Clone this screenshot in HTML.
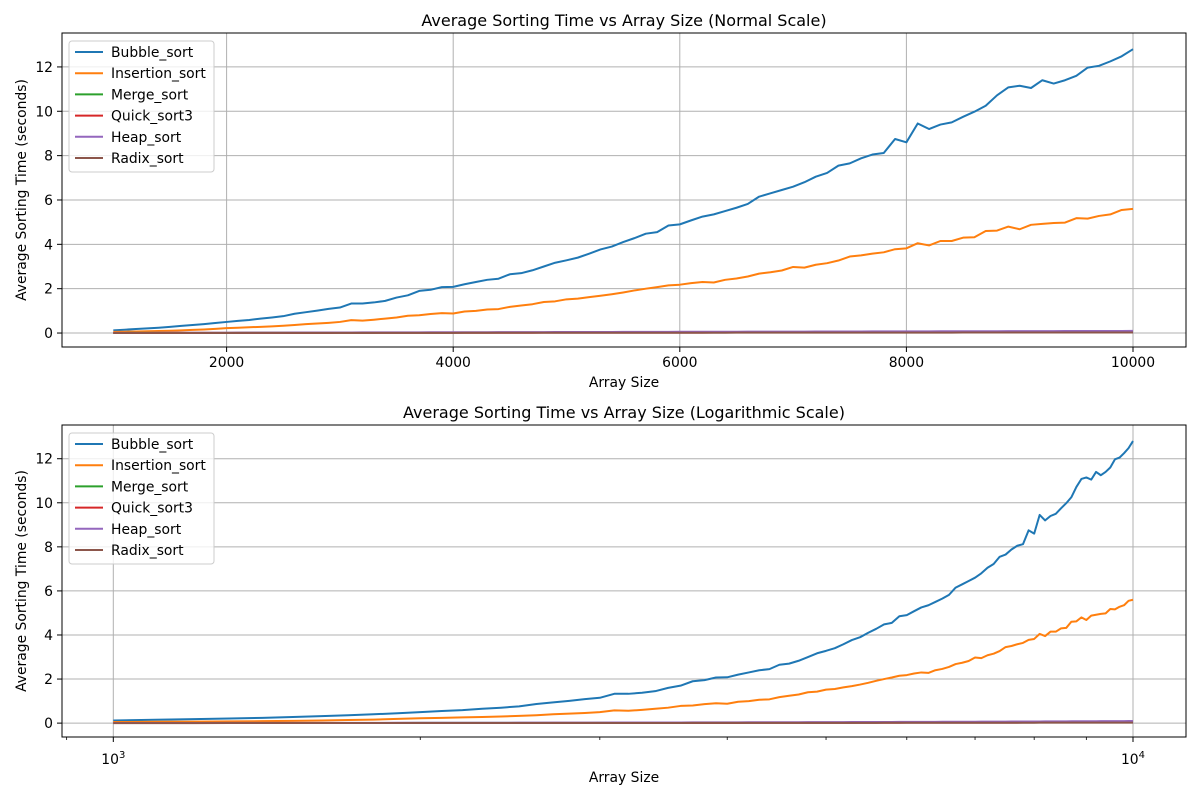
<!DOCTYPE html>
<html><head><meta charset="utf-8"><style>
html,body{margin:0;padding:0;background:#fff;}
svg{display:block;font-family:"DejaVu Sans","Liberation Sans",sans-serif;}
</style></head><body>
<svg id="chart" width="1200" height="800" viewBox="0 0 1200 800" xmlns="http://www.w3.org/2000/svg"></svg>
<script>
const sizes = [];
for (let n = 1000; n <= 10000; n += 100) sizes.push(n);
const seriesNames = ["Bubble_sort","Insertion_sort","Merge_sort","Quick_sort3","Heap_sort","Radix_sort"];
const seriesColors = ["#1f77b4","#ff7f0e","#2ca02c","#d62728","#9467bd","#8c564b"];
const bubbleSort = [0.12,0.15,0.18,0.21,0.24,0.28,0.32,0.36,0.40,0.45,
0.50,0.55,0.59,0.65,0.70,0.76,0.87,0.94,1.01,1.09,
1.15,1.33,1.33,1.38,1.45,1.60,1.70,1.90,1.95,2.07,
2.08,2.20,2.30,2.40,2.45,2.65,2.70,2.83,3.00,3.17,
3.28,3.40,3.58,3.77,3.90,4.10,4.28,4.48,4.55,4.85,
4.90,5.08,5.25,5.35,5.50,5.65,5.82,6.15,6.30,6.45,
6.60,6.80,7.05,7.22,7.55,7.65,7.88,8.05,8.12,8.75,
8.60,9.45,9.20,9.40,9.50,9.75,9.98,10.25,10.72,11.08,
11.15,11.05,11.40,11.25,11.40,11.60,11.97,12.05,12.25,12.48,12.80];
const insertionSort = [0.05,0.06,0.07,0.08,0.09,0.10,0.12,0.14,0.16,0.19,
0.22,0.24,0.26,0.28,0.30,0.33,0.36,0.40,0.43,0.46,
0.50,0.58,0.56,0.60,0.65,0.70,0.78,0.80,0.86,0.90,
0.88,0.97,1.00,1.06,1.08,1.18,1.24,1.30,1.40,1.43,
1.52,1.55,1.62,1.68,1.75,1.83,1.92,2.00,2.07,2.15,
2.18,2.25,2.30,2.28,2.40,2.46,2.55,2.68,2.74,2.82,
2.98,2.95,3.08,3.15,3.27,3.45,3.50,3.58,3.64,3.78,
3.82,4.05,3.95,4.15,4.15,4.30,4.32,4.60,4.62,4.80,
4.68,4.88,4.92,4.96,4.98,5.18,5.16,5.28,5.35,5.55,5.60];
const mergeSort = [0.004,0.004,0.005,0.005,0.006,0.006,0.007,0.007,0.008,0.008,
0.009,0.009,0.010,0.010,0.011,0.011,0.012,0.012,0.013,0.013,
0.014,0.014,0.015,0.015,0.016,0.016,0.017,0.017,0.018,0.018,
0.019,0.019,0.020,0.020,0.021,0.021,0.022,0.022,0.023,0.023,
0.024,0.024,0.025,0.025,0.026,0.026,0.027,0.027,0.028,0.028,
0.029,0.029,0.030,0.030,0.031,0.031,0.032,0.032,0.033,0.033,
0.034,0.034,0.035,0.035,0.036,0.036,0.037,0.037,0.038,0.038,
0.039,0.039,0.040,0.040,0.041,0.041,0.042,0.042,0.043,0.043,
0.044,0.044,0.045,0.045,0.046,0.046,0.047,0.047,0.048,0.048,0.049];
const quickSort3 = [0.003,0.003,0.004,0.004,0.004,0.005,0.005,0.005,0.006,0.006,
0.006,0.007,0.007,0.007,0.008,0.008,0.008,0.009,0.009,0.009,
0.010,0.010,0.010,0.011,0.011,0.011,0.012,0.012,0.012,0.013,
0.013,0.013,0.014,0.014,0.014,0.015,0.015,0.015,0.016,0.016,
0.016,0.017,0.017,0.017,0.018,0.018,0.018,0.019,0.019,0.019,
0.020,0.020,0.020,0.021,0.021,0.021,0.022,0.022,0.022,0.023,
0.023,0.023,0.024,0.024,0.024,0.025,0.025,0.025,0.026,0.026,
0.026,0.027,0.027,0.027,0.028,0.028,0.028,0.029,0.029,0.029,
0.030,0.030,0.030,0.031,0.031,0.031,0.032,0.032,0.032,0.033,0.033];
const heapSort = [0.006,0.007,0.008,0.009,0.010,0.010,0.011,0.012,0.013,0.014,
0.015,0.016,0.017,0.018,0.019,0.020,0.021,0.022,0.023,0.024,
0.025,0.026,0.027,0.028,0.029,0.030,0.031,0.032,0.033,0.034,
0.035,0.036,0.037,0.038,0.039,0.040,0.041,0.042,0.043,0.044,
0.045,0.046,0.047,0.048,0.049,0.050,0.051,0.052,0.053,0.054,
0.055,0.056,0.057,0.058,0.059,0.060,0.061,0.062,0.063,0.064,
0.065,0.066,0.067,0.068,0.069,0.070,0.071,0.072,0.073,0.074,
0.075,0.076,0.077,0.078,0.079,0.080,0.081,0.082,0.083,0.084,
0.085,0.086,0.087,0.088,0.089,0.090,0.091,0.092,0.093,0.094,0.095];
const radixSort = [0.002,0.002,0.002,0.003,0.003,0.003,0.003,0.004,0.004,0.004,
0.004,0.005,0.005,0.005,0.005,0.006,0.006,0.006,0.006,0.007,
0.007,0.007,0.007,0.008,0.008,0.008,0.008,0.009,0.009,0.009,
0.009,0.010,0.010,0.010,0.010,0.011,0.011,0.011,0.011,0.012,
0.012,0.012,0.012,0.013,0.013,0.013,0.013,0.014,0.014,0.014,
0.014,0.015,0.015,0.015,0.015,0.016,0.016,0.016,0.016,0.017,
0.017,0.017,0.017,0.018,0.018,0.018,0.018,0.019,0.019,0.019,
0.019,0.020,0.020,0.020,0.020,0.021,0.021,0.021,0.021,0.022,
0.022,0.022,0.022,0.023,0.023,0.023,0.023,0.024,0.024,0.024,0.024];
const seriesValues = [bubbleSort, insertionSort, mergeSort, quickSort3, heapSort, radixSort];
const yTicks = [0,2,4,6,8,10,12];
const xTicksLinear = [2000,4000,6000,8000,10000];
const xMinorLog = [900,2000,3000,4000,5000,6000,7000,8000,9000];

const NS = "http://www.w3.org/2000/svg";
const svg = document.getElementById("chart");
function mk(tag, attrs, parent) {
  const e = document.createElementNS(NS, tag);
  for (const k in attrs) e.setAttribute(k, attrs[k]);
  (parent || svg).appendChild(e);
  return e;
}
const L = 62, R = 1186, YMIN = -0.63, YMAX = 13.53;

function drawPanel(top, bottom, isLog, title, prefix) {
  const g = mk("g", {});
  
  
  const yS = v => bottom - (v - YMIN) / (YMAX - YMIN) * (bottom - top);
  const xS = isLog
    ? v => 113.3 + (Math.log10(v) - 3) * 1019.7
    : v => 113.3 + (v - 1000) * 0.11330;
  // grid
  yTicks.forEach(t => {
    const y = yS(t);
    const gl = mk("line", {x1:L, x2:R, y1:y, y2:y, stroke:"#b0b0b0", "stroke-width":1}, g);
    
    
    mk("line", {x1:L-5, x2:L, y1:y, y2:y, stroke:"#000", "stroke-width":1}, g);
    const tx = mk("text", {x:L-9, y:y+5, "text-anchor":"end", "font-size":13.9, fill:"#000"}, g);
    tx.textContent = t;
    
    
  });
  const xt = isLog ? [1000,10000] : xTicksLinear;
  xt.forEach(t => {
    const x = xS(t);
    const gl = mk("line", {x1:x, x2:x, y1:top, y2:bottom, stroke:"#b0b0b0", "stroke-width":1}, g);
    
    
    mk("line", {x1:x, x2:x, y1:bottom, y2:bottom+5, stroke:"#000", "stroke-width":1}, g);
    const tx = mk("text", {x:x, y:bottom+20, "text-anchor":"middle", "font-size":13.9, fill:"#000"}, g);
    
    
    if (isLog) {
      tx.setAttribute("y", bottom+27);
      tx.textContent = "10";
      const sp = mk("tspan", {dy:-6, "font-size":10}, tx);
      sp.textContent = String(Math.round(Math.log10(t)));
    } else tx.textContent = t;
  });
  if (isLog) xMinorLog.forEach(t => {
    const x = xS(t);
    mk("line", {x1:x, x2:x, y1:bottom, y2:bottom+3, stroke:"#000", "stroke-width":0.8}, g);
  });
  // series
  seriesValues.forEach((vals, i) => {
    const d = vals.map((v, j) => (j ? "L" : "M") + xS(sizes[j]).toFixed(2) + "," + yS(v).toFixed(2)).join("");
    const p = mk("path", {d:d, fill:"none", stroke:seriesColors[i], "stroke-width":2, "stroke-linejoin":"round"}, g);
    
    
  });
  // frame
  const fr = mk("rect", {x:L, y:top, width:R-L, height:bottom-top, fill:"none", stroke:"#000", "stroke-width":1}, g);
  
  
  // title
  const tt = mk("text", {x:(L+R)/2, y:top-7, "text-anchor":"middle", "font-size":16, fill:"#000"}, g);
  tt.textContent = title;
  
  
  const xl = mk("text", {x:(L+R)/2, y:isLog ? bottom+45 : bottom+40, "text-anchor":"middle", "font-size":13.9, fill:"#000"}, g);
  xl.textContent = "Array Size";
  
  
  const cy = (top+bottom)/2;
  const yl = mk("text", {x:26, y:cy, "text-anchor":"middle", "font-size":13.9, fill:"#000", transform:"rotate(-90 26 " + cy + ")"}, g);
  yl.textContent = "Average Sorting Time (seconds)";
  
  
  // legend
  const lg = mk("g", {}, g);
  
  
  mk("rect", {x:69, y:top+8, width:145, height:131, rx:3, fill:"#fff", "fill-opacity":0.8, stroke:"#cccccc", "stroke-width":1}, lg);
  seriesNames.forEach((n, i) => {
    const y = top + 19 + i * 21.2;
    const e = mk("g", {}, lg);
    
    
    mk("line", {x1:75, x2:103, y1:y, y2:y, stroke:seriesColors[i], "stroke-width":2}, e);
    const t = mk("text", {x:111, y:y+5, "font-size":13.9, fill:"#000"}, e);
    t.textContent = n;
  });
}
drawPanel(33, 347, false, "Average Sorting Time vs Array Size (Normal Scale)", "linear");
drawPanel(425, 737, true, "Average Sorting Time vs Array Size (Logarithmic Scale)", "log");
</script>
</body></html>
